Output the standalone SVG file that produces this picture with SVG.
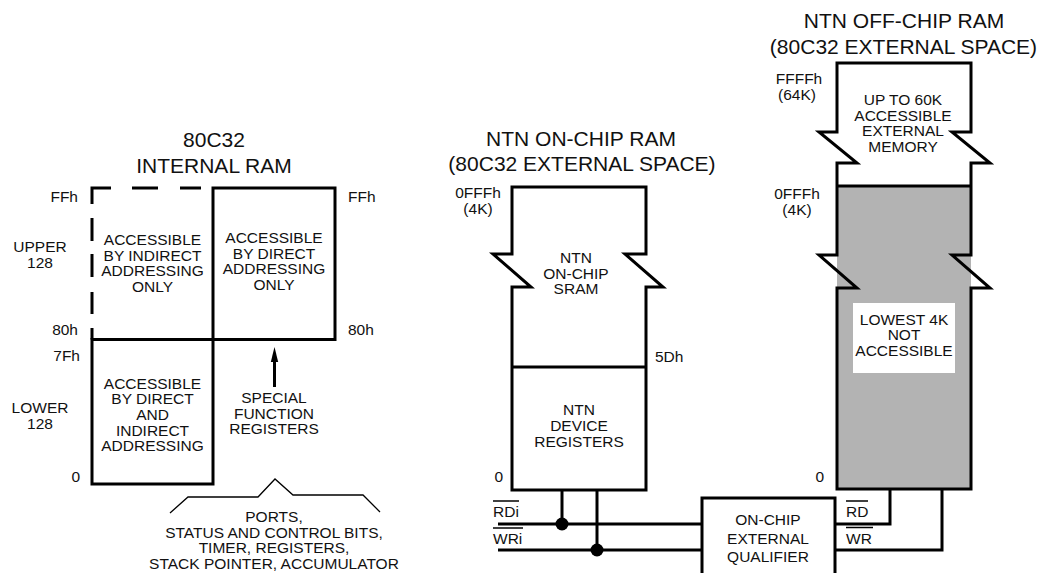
<svg xmlns="http://www.w3.org/2000/svg" width="1043" height="573" viewBox="0 0 1043 573">
<style>
text{font-family:"Liberation Sans",Arial,Helvetica,sans-serif;fill:#111}
.s{font-size:15.5px}
.t{font-size:21px}
.m{text-anchor:middle}
.e{text-anchor:end}
.k{fill:none;stroke:#000;stroke-width:3}
.thin{fill:none;stroke:#000;stroke-width:1.3}
.bar{stroke:#000;stroke-width:1.5}
</style>
<rect width="1043" height="573" fill="#fff"/>

<g id="internal-ram-title">
<text class="t m" x="214" y="146.5">80C32</text>
<text class="t m" x="214" y="172.5">INTERNAL RAM</text>
</g>

<g id="internal-ram-labels">
<text class="s e" x="78" y="202">FFh</text>
<text class="s" x="348" y="202">FFh</text>
<text class="s m" x="40" y="252">UPPER</text>
<text class="s m" x="40" y="267.5">128</text>
<text class="s e" x="78" y="335">80h</text>
<text class="s" x="348" y="335">80h</text>
<text class="s e" x="80" y="361">7Fh</text>
<text class="s m" x="40" y="413">LOWER</text>
<text class="s m" x="40" y="429">128</text>
<text class="s e" x="80" y="482">0</text>
</g>

<g id="upper-indirect">
<path class="k" d="M90.5,188 H111 M132,188 H158 M180,188 H201 M92,188 V204 M92,218 V241 M92,254 V277 M92,292 V314 M92,328 V339.5"/>
<text class="s m" x="152.5" y="245">ACCESSIBLE</text>
<text class="s m" x="152.5" y="260.5">BY INDIRECT</text>
<text class="s m" x="152.5" y="276">ADDRESSING</text>
<text class="s m" x="152.5" y="291.5">ONLY</text>
</g>

<g id="upper-direct">
<rect class="k" x="213" y="188" width="122" height="151.5"/>
<text class="s m" x="274" y="243">ACCESSIBLE</text>
<text class="s m" x="274" y="258.5">BY DIRECT</text>
<text class="s m" x="274" y="274">ADDRESSING</text>
<text class="s m" x="274" y="289.5">ONLY</text>
</g>

<g id="lower-128">
<rect class="k" x="92" y="339.5" width="121" height="144.5"/>
<text class="s m" x="152.5" y="388.5">ACCESSIBLE</text>
<text class="s m" x="152.5" y="404">BY DIRECT</text>
<text class="s m" x="152.5" y="420">AND</text>
<text class="s m" x="152.5" y="435.5">INDIRECT</text>
<text class="s m" x="152.5" y="451">ADDRESSING</text>
</g>

<g id="sfr">
<text class="s m" x="274" y="403">SPECIAL</text>
<text class="s m" x="274" y="418.5">FUNCTION</text>
<text class="s m" x="274" y="434">REGISTERS</text>
</g>

<g id="sfr-contents">
<polyline class="thin" points="170,513 188,497 258,497 275,479 293,495 363,495 380,512"/>
<text class="s m" x="274" y="522">PORTS,</text>
<text class="s m" x="274" y="537.5">STATUS AND CONTROL BITS,</text>
<text class="s m" x="274" y="553">TIMER, REGISTERS,</text>
<text class="s m" x="274" y="568.5">STACK POINTER, ACCUMULATOR</text>
</g>

<g id="on-chip-ram">
<text class="t m" x="581" y="145.5">NTN ON-CHIP RAM</text>
<text class="t m" x="582" y="171">(80C32 EXTERNAL SPACE)</text>
<text class="s m" x="478" y="198">0FFFh</text>
<text class="s m" x="478" y="214">(4K)</text>
<path class="k" d="M512,187 H646 V254 H625 L663,287 H646 V490 H512 V287 H531 L493,254 H512 Z"/>
<text class="s m" x="576" y="263">NTN</text>
<text class="s m" x="576" y="278.5">ON-CHIP</text>
<text class="s m" x="576" y="294">SRAM</text>
<line class="k" x1="512" y1="367" x2="646" y2="367"/>
<text class="s" x="655" y="362">5Dh</text>
<text class="s m" x="579" y="415">NTN</text>
<text class="s m" x="579" y="431">DEVICE</text>
<text class="s m" x="579" y="446.5">REGISTERS</text>
<text class="s e" x="503" y="482">0</text>
</g>

<g id="off-chip-ram">
<text class="t m" x="904" y="28">NTN OFF-CHIP RAM</text>
<text class="t m" x="903.5" y="53.5">(80C32 EXTERNAL SPACE)</text>
<text class="s m" x="799" y="84">FFFFh</text>
<text class="s m" x="797" y="99.5">(64K)</text>
<text class="s m" x="797" y="198.5">0FFFh</text>
<text class="s m" x="797" y="214.5">(4K)</text>
<rect x="837" y="186" width="134" height="303" fill="#b3b3b3"/>
<path class="k" d="M837,63 H971 V132 H952 L990,163 H971 V255 H952 L990,288 H971 V489 H837 V288 H857 L819,255 H837 V163 H857 L819,132 H837 Z"/>
<line class="k" x1="837" y1="186" x2="971" y2="186"/>
<text class="s m" x="903" y="105">UP TO 60K</text>
<text class="s m" x="903" y="120.5">ACCESSIBLE</text>
<text class="s m" x="903" y="136">EXTERNAL</text>
<text class="s m" x="903" y="151.5">MEMORY</text>
<rect x="853" y="303" width="102" height="70" fill="#fff"/>
<text class="s m" x="904" y="324.5">LOWEST 4K</text>
<text class="s m" x="904" y="340">NOT</text>
<text class="s m" x="904" y="355.5">ACCESSIBLE</text>
<text class="s e" x="824" y="482">0</text>
</g>

<g id="qualifier">
<rect class="k" x="702" y="498" width="133" height="82"/>
<text class="s m" x="768" y="525">ON-CHIP</text>
<text class="s m" x="768" y="543.5">EXTERNAL</text>
<text class="s m" x="768" y="562">QUALIFIER</text>
</g>

<g id="connectors">
<line class="k" x1="274.5" y1="387" x2="274.5" y2="360"/>
<polygon points="274.5,347 270.8,362 278.2,362" fill="#000"/>
<polyline class="k" points="562,490 562,524"/>
<polyline class="k" points="597,490 597,550"/>
<line class="k" x1="498" y1="524" x2="702" y2="524"/>
<line class="k" x1="498" y1="550" x2="702" y2="550"/>
<circle cx="562" cy="524" r="6.5" fill="#000"/>
<circle cx="597" cy="550" r="6.5" fill="#000"/>
<polyline class="k" points="890,489 890,524 835,524"/>
<polyline class="k" points="942,489 942,550 835,550"/>
<text class="s" x="493" y="517">RDi</text>
<line class="bar" x1="493" y1="501" x2="519" y2="501"/>
<text class="s" x="493" y="544">WRi</text>
<line class="bar" x1="493" y1="528" x2="523" y2="528"/>
<text class="s" x="846" y="517">RD</text>
<line class="bar" x1="846" y1="501" x2="868" y2="501"/>
<text class="s" x="846" y="544">WR</text>
<line class="bar" x1="846" y1="527.5" x2="873" y2="527.5"/>
</g>
</svg>
